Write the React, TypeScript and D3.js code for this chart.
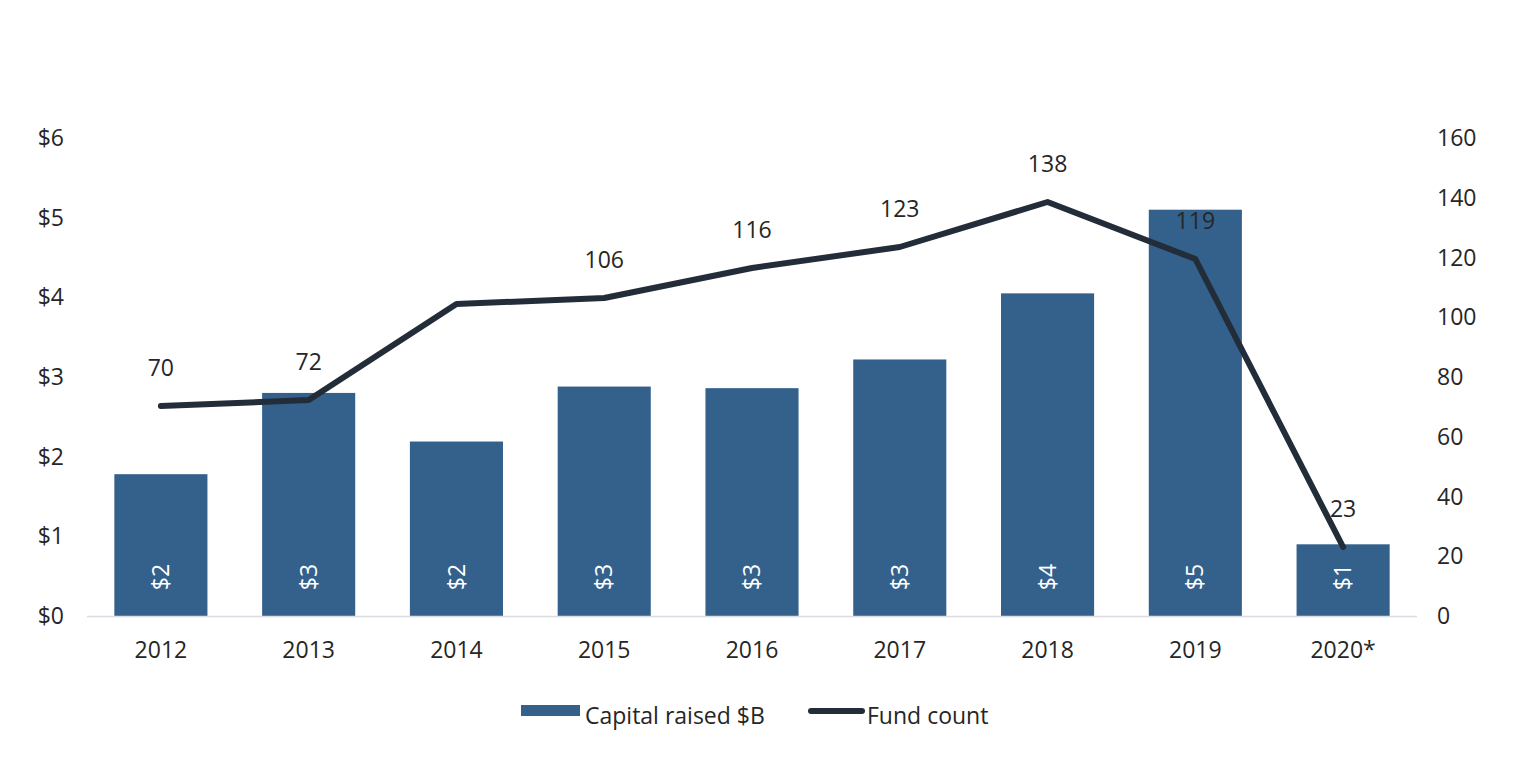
import { useEffect, useRef } from 'react'
import * as d3 from 'd3'

const years = ['2012', '2013', '2014', '2015', '2016', '2017', '2018', '2019', '2020*']
const capital = [1.78, 2.8, 2.19, 2.88, 2.86, 3.22, 4.05, 5.1, 0.9]
const funds = [70, 72, 104, 106, 116, 123, 138, 119, 23]
const fundLabels = ['70', '72', '', '106', '116', '123', '138', '119', '23']
const leftTicks = [0, 1, 2, 3, 4, 5, 6]
const rightTicks = [0, 20, 40, 60, 80, 100, 120, 140, 160]

const BAR = '#34618c'
const LINE = '#232d3a'
const TEXT = '#262626'
const FONT = '"Open Sans", "DejaVu Sans", sans-serif'
const FS = 23

export default function App() {
  const svgRef = useRef<SVGSVGElement>(null)

  useEffect(() => {
    if (!svgRef.current) return
    const svg = d3.select(svgRef.current)
    svg.selectAll('*').remove()

    const left = 87
    const right = 1417
    const top = 138
    const bottom = 616

    const x = d3.scaleBand().domain(years).range([left, right]).paddingInner(0.37).paddingOuter(0.185)
    const yL = d3.scaleLinear().domain([0, 6]).range([bottom, top])
    const yR = d3.scaleLinear().domain([0, 160]).range([bottom, top - 2])

    svg.append('rect').attr('width', 1536).attr('height', 759).attr('fill', 'white')

    // left ticks
    svg.append('g')
      .selectAll('text')
      .data(leftTicks)
      .enter()
      .append('text')
      .attr('x', 64)
      .attr('y', d => yL(d))
      .attr('dy', '0.35em')
      .attr('text-anchor', 'end')
      .attr('font-size', FS)
      .attr('fill', TEXT)
      .text(d => `$${d}`)

    // right ticks
    svg.append('g')
      .selectAll('text')
      .data(rightTicks)
      .enter()
      .append('text')
      .attr('x', 1437)
      .attr('y', d => yL(d / 160 * 6))
      .attr('dy', '0.35em')
      .attr('text-anchor', 'start')
      .attr('font-size', FS)
      .attr('fill', TEXT)
      .text(d => d)

    // bars
    svg.append('g')
      .selectAll('rect')
      .data(capital)
      .enter()
      .append('rect')
      .attr('x', (_, i) => x(years[i])!)
      .attr('y', d => yL(d))
      .attr('width', x.bandwidth())
      .attr('height', d => bottom - yL(d))
      .attr('fill', BAR)

    // baseline
    svg.append('line')
      .attr('x1', left).attr('x2', right)
      .attr('y1', bottom + 0.5).attr('y2', bottom + 0.5)
      .attr('stroke', '#d9dde3').attr('stroke-width', 1.5)

    // bar labels (rotated)
    svg.append('g')
      .selectAll('text')
      .data(capital)
      .enter()
      .append('text')
      .attr('transform', (_, i) => `translate(${x(years[i])! + x.bandwidth() / 2},${bottom - 39}) rotate(-90)`)
      .attr('dy', '0.35em')
      .attr('text-anchor', 'middle')
      .attr('font-size', FS)
      .attr('fill', 'white')
      .text(d => `$${Math.round(d)}`)

    // x labels
    svg.append('g')
      .selectAll('text')
      .data(years)
      .enter()
      .append('text')
      .attr('x', d => x(d)! + x.bandwidth() / 2)
      .attr('y', 650)
      .attr('dy', '0.35em')
      .attr('text-anchor', 'middle')
      .attr('font-size', FS)
      .attr('fill', TEXT)
      .text(d => d)

    // fund count line
    const line = d3.line<number>()
      .x((_, i) => x(years[i])! + x.bandwidth() / 2)
      .y(d => yR(d))
    svg.append('path')
      .datum(funds)
      .attr('d', line)
      .attr('fill', 'none')
      .attr('stroke', LINE)
      .attr('stroke-width', 6)
      .attr('stroke-linejoin', 'round')
      .attr('stroke-linecap', 'round')

    svg.append('g')
      .selectAll('text')
      .data(funds)
      .enter()
      .append('text')
      .attr('x', (_, i) => x(years[i])! + x.bandwidth() / 2)
      .attr('y', d => yR(d) - 38)
      .attr('dy', '0.35em')
      .attr('text-anchor', 'middle')
      .attr('font-size', FS)
      .attr('fill', TEXT)
      .text((_, i) => fundLabels[i])

    // legend
    const lg = svg.append('g')
    lg.append('rect').attr('x', 521).attr('y', 705).attr('width', 59).attr('height', 11).attr('fill', BAR)
    lg.append('text').attr('x', 585).attr('y', 716).attr('dy', '0.35em').attr('font-size', FS).attr('fill', TEXT).text('Capital raised $B')
    lg.append('line').attr('x1', 811).attr('x2', 862).attr('y1', 711).attr('y2', 711)
      .attr('stroke', LINE).attr('stroke-width', 6).attr('stroke-linecap', 'round')
    lg.append('text').attr('x', 867).attr('y', 716).attr('dy', '0.35em').attr('font-size', FS).attr('fill', TEXT).text('Fund count')
  }, [])

  return (
    <svg
      ref={svgRef}
      width={1536}
      height={759}
      style={{ display: 'block', position: 'absolute', left: 0, top: 0, fontFamily: FONT }}
    />
  )
}
